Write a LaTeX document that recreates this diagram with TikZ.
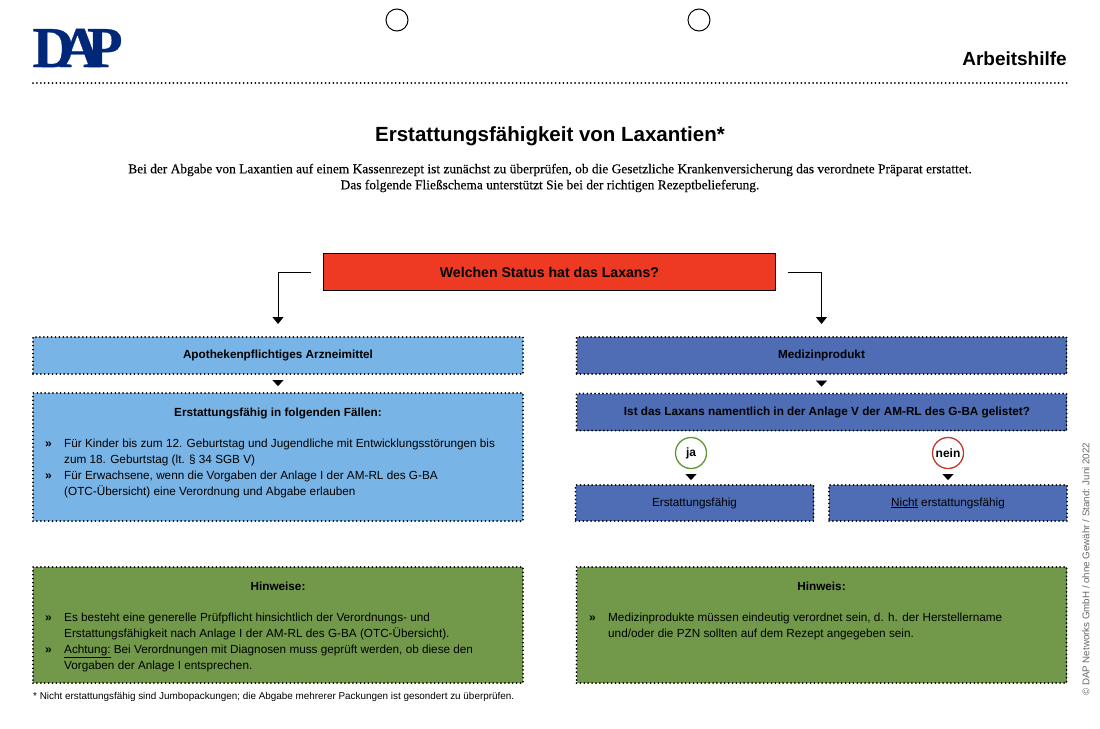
\documentclass[tikz,border=0pt]{standalone}
\usepackage{fontspec}
\setmainfont{Liberation Sans}
\newfontfamily\introfont[FakeBold=0.25]{Liberation Serif}
\newfontfamily\logofont[FakeBold=0.5]{Liberation Serif Bold}
\usetikzlibrary{positioning,arrows.meta}
\definecolor{statusred}{HTML}{EE3A23}
\definecolor{lightblue}{HTML}{78B4E6}
\definecolor{darkblue}{HTML}{4E6DB5}
\definecolor{hintgreen}{HTML}{72994A}
\definecolor{logoblue}{HTML}{00287A}
\definecolor{jagreen}{HTML}{5E9632}
\definecolor{neinred}{HTML}{C0392B}
\newcommand{\listfont}{\fontsize{11.75}{16}\selectfont}

\begin{document}
\begin{tikzpicture}[
  x=1pt,y=-1pt,
  dotline/.style={line width=2pt,dash pattern=on 0pt off 3.9pt,line cap=round},
  dotbox/.style={draw=black,dotline,inner sep=0pt,font=\listfont},
  wide/.style={dotbox,minimum width=490pt,minimum height=37pt},
  small/.style={dotbox,minimum width=238pt,minimum height=36pt},
  answer/.style={circle,draw,line width=1.3pt,minimum size=31pt,inner sep=0pt,font=\bfseries\fontsize{12}{14}\selectfont},
  listnode/.style={anchor=north west,inner sep=0pt,font=\listfont},
  arrow/.style={-{Triangle[length=7pt,width=11pt]},line width=1pt,shorten <=12pt,shorten >=12pt},
  marker/.style={-{Triangle[length=6pt,width=11pt]},line width=0.1pt,shorten <=7pt,shorten >=6pt}
]
\useasboundingbox (0,0) rectangle (1100,728);

% header
\node[logoblue,inner sep=0pt,font=\logofont\fontsize{58}{58}\selectfont] (logo) at (77.5,48) {D\kern-15ptA\kern-14ptP};
\node[circle,draw,line width=1pt,minimum size=22pt,inner sep=0pt] (holeleft) at (397,20) {};
\node[circle,draw,line width=1pt,minimum size=22pt,inner sep=0pt] (holeright) at (699,20) {};
\node[anchor=east,inner sep=0pt,font=\bfseries\fontsize{19}{21}\selectfont] (kind) at (1067,59) {Arbeitshilfe};
\draw[dotline] (33,83) -- (1068,83);

\node[inner sep=0pt,font=\bfseries\fontsize{20.5}{24}\selectfont] (title) at (550,136) {Erstattungsfähigkeit von Laxantien*};
\node[align=center,inner sep=0pt,font=\introfont\fontsize{13.4}{16}\selectfont] (intro) at (550,178) {Bei der Abgabe von Laxantien auf einem Kassenrezept ist zunächst zu überprüfen, ob die Gesetzliche Krankenversicherung das verordnete Präparat erstattet.\\Das folgende Fließschema unterstützt Sie bei der richtigen Rezeptbelieferung.};

% flow
\node[draw=black,fill=statusred,line width=1.6pt,minimum width=452pt,minimum height=37pt,inner sep=0pt,font=\bfseries\fontsize{14.1}{16}\selectfont] (status) at (549.5,272) {Welchen Status hat das Laxans?};

\node[wide,fill=lightblue] (pharm) at (278,355.5) {\raisebox{-1.5pt}{\textbf{Apothekenpflichtiges Arzneimittel}}};
\node[wide,fill=darkblue] (medprod) at (821.5,355.5) {\raisebox{-1.5pt}{\textbf{Medizinprodukt}}};
\node[wide,fill=lightblue,minimum height=128pt] (cases) at (278,457) {};
\node[wide,fill=darkblue] (listed) at (821.5,412) {\hspace*{11pt}\raisebox{-1pt}{\textbf{Ist das Laxans namentlich in der Anlage V der AM-RL des G-BA gelistet?}}};
\node[answer,draw=jagreen] (ja) at (691,453) {ja};
\node[answer,draw=neinred] (nein) at (948,453) {nein};
\node[small,fill=darkblue] (yes) at (694.5,503) {\raisebox{-1pt}{Erstattungsfähig}};
\node[small,fill=darkblue] (no) at (948,503) {\raisebox{-1pt}{\underline{Nicht} erstattungsfähig}};
\node[wide,fill=hintgreen,minimum height=116pt] (hintsleft) at (278,625) {};
\node[wide,fill=hintgreen,minimum height=116pt] (hintsright) at (821.5,625) {};

\draw[arrow] (status.west) -| (pharm.north);
\draw[arrow] (status.east) -| (medprod.north);
\draw[marker] (pharm.south) -- (cases.north);
\draw[marker] (medprod.south) -- (listed.north);
\draw[marker,shorten <=10pt,shorten >=4pt] (ja.south) -- (ja.south |- yes.north);
\draw[marker,shorten <=10pt,shorten >=4pt] (nein.south) -- (no.north);

% box texts
\node[inner sep=0pt,font=\bfseries\listfont] (casestitle) at (278,413) {Erstattungsfähig in folgenden Fällen:};
\node[listnode] (caseslist) at (45,436.5) {\begin{tabular}{@{}p{19pt}@{}l@{}}
\textbf{\large »} & Für Kinder bis zum 12. Geburtstag und Jugendliche mit Entwicklungsstörungen bis\\
 & zum 18. Geburtstag (lt. § 34 SGB V)\\
\textbf{\large »} & Für Erwachsene, wenn die Vorgaben der Anlage I der AM-RL des G-BA\\
 & (OTC-Übersicht) eine Verordnung und Abgabe erlauben
\end{tabular}};
\node[inner sep=0pt,font=\bfseries\listfont] (hintslefttitle) at (278,586) {Hinweise:};
\node[listnode] (hintsleftlist) at (45,610) {\begin{tabular}{@{}p{19pt}@{}l@{}}
\textbf{\large »} & Es besteht eine generelle Prüfpflicht hinsichtlich der Verordnungs- und\\
 & Erstattungsfähigkeit nach Anlage I der AM-RL des G-BA (OTC-Übersicht).\\
\textbf{\large »} & \underline{Achtung:} Bei Verordnungen mit Diagnosen muss geprüft werden, ob diese den\\
 & Vorgaben der Anlage I entsprechen.
\end{tabular}};
\node[inner sep=0pt,font=\bfseries\listfont] (hintsrighttitle) at (821.5,586) {Hinweis:};
\node[listnode] (hintsrightlist) at (589,610) {\begin{tabular}{@{}p{19pt}@{}l@{}}
\textbf{\large »} & Medizinprodukte müssen eindeutig verordnet sein, d. h. der Herstellername\\
 & und/oder die PZN sollten auf dem Rezept angegeben sein.
\end{tabular}};

% margins
\node[anchor=west,inner sep=0pt,font=\fontsize{9.9}{11}\selectfont] (footnote) at (33,697) {* Nicht erstattungsfähig sind Jumbopackungen; die Abgabe mehrerer Packungen ist gesondert zu überprüfen.};
\node[rotate=90,anchor=west,inner sep=0pt,gray!80!black,font=\fontsize{9.75}{11}\selectfont] (credit) at (1086,696) {© DAP Networks GmbH / ohne Gewähr / Stand: Juni 2022};
\end{tikzpicture}
\end{document}
